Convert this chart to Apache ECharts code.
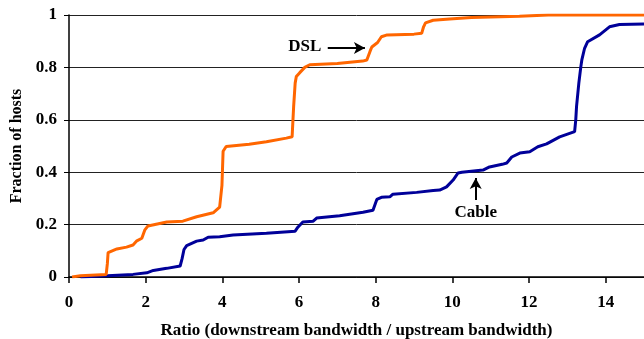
<!DOCTYPE html>
<html>
<head>
<meta charset="utf-8">
<script src="https://cdn.jsdelivr.net/npm/echarts@6/dist/echarts.min.js"></script>
<style>
html,body{margin:0;padding:0;background:#fff;}
#chart{width:644px;height:339px;}
</style>
</head>
<body>
<div id="chart"></div>
<script>
// DSL CDF (ratio, fraction)
var dslX = [0.08,0.3,0.7,0.97,1.0,1.02,1.25,1.5,1.67,1.77,1.9,1.98,2.06,2.55,2.97,3.33,3.76,3.93,3.99,4.02,4.1,4.7,5.15,5.67,5.82,5.86,5.9,5.93,6.02,6.15,6.28,7.0,7.66,7.77,7.85,7.9,8.05,8.15,8.3,9.0,9.2,9.25,9.3,9.5,9.93,10.5,11.75,12.5,15];
var dslY = [0,0.005,0.008,0.01,0.05,0.093,0.107,0.114,0.122,0.138,0.148,0.18,0.195,0.21,0.213,0.23,0.245,0.267,0.35,0.48,0.498,0.507,0.516,0.53,0.535,0.65,0.74,0.765,0.78,0.8,0.81,0.815,0.824,0.828,0.86,0.878,0.895,0.917,0.924,0.927,0.93,0.955,0.97,0.98,0.985,0.99,0.995,1.0,1.0];
// Cable CDF
var cableX = [0.3,1.0,1.67,2.03,2.2,2.55,2.9,2.95,3.0,3.07,3.33,3.5,3.63,3.93,4.28,5.15,5.9,5.97,6.1,6.37,6.46,7.06,7.67,7.93,8.03,8.15,8.37,8.45,9.07,9.5,9.67,9.85,10.02,10.15,10.25,10.8,10.97,11.3,11.42,11.55,11.76,12.02,12.23,12.46,12.8,13.19,13.22,13.24,13.3,13.35,13.38,13.45,13.53,13.84,14.1,14.36,15];
var cableY = [0,0.005,0.01,0.016,0.025,0.033,0.042,0.07,0.105,0.12,0.137,0.141,0.152,0.154,0.16,0.167,0.175,0.19,0.21,0.213,0.225,0.234,0.247,0.255,0.296,0.304,0.306,0.316,0.323,0.33,0.332,0.344,0.37,0.397,0.40,0.408,0.42,0.43,0.435,0.458,0.473,0.478,0.497,0.508,0.535,0.555,0.6,0.65,0.74,0.8,0.83,0.873,0.898,0.924,0.955,0.964,0.966];
var xTicks = [0,2,4,6,8,10,12,14];
var yTicks = [0,0.2,0.4,0.6,0.8,1];

function zip(a,b){return a.map(function(v,i){return [v,b[i]];});}

var font = '"Liberation Serif","Times New Roman",serif';
var chart = echarts.init(document.getElementById('chart'), null, {renderer:'canvas'});
chart.setOption({
  animation:false,
  backgroundColor:'#fff',
  grid:{left:69,top:15,right:0,bottom:62,containLabel:false,outerBoundsMode:'none'},
  xAxis:{
    type:'value',min:0,max:15,interval:2,
    name:'Ratio (downstream bandwidth / upstream bandwidth)',
    nameLocation:'middle',nameGap:45,
    nameTextStyle:{fontFamily:font,fontWeight:'bold',fontSize:17,color:'#000'},
    axisLine:{show:true,lineStyle:{color:'#000',width:1.5}},
    axisTick:{show:true,length:6,inside:false,lineStyle:{color:'#000',width:1.5}},
    axisLabel:{show:true,margin:17,showMaxLabel:false,fontFamily:font,fontWeight:'bold',fontSize:17,color:'#000'},
    splitLine:{show:false}
  },
  yAxis:{
    type:'value',min:0,max:1,interval:0.2,
    name:'Fraction of hosts',
    nameLocation:'middle',nameGap:40,nameRotate:90,
    nameTextStyle:{fontFamily:font,fontWeight:'bold',fontSize:16,color:'#000'},
    axisLine:{show:true,lineStyle:{color:'#000',width:1.5}},
    axisTick:{show:true,length:5,inside:false,lineStyle:{color:'#000',width:1}},
    axisLabel:{show:true,margin:12,fontFamily:font,fontWeight:'bold',fontSize:17,color:'#000'},
    splitLine:{show:true,lineStyle:{color:'#222',width:1}}
  },
  series:[
    {
      name:'DSL',type:'line',data:zip(dslX,dslY),showSymbol:false,smooth:false,
      lineStyle:{color:'#FF6600',width:3},itemStyle:{color:'#FF6600'},z:3,
      markLine:{
        silent:true,symbol:['none','arrow'],symbolSize:[9,11],
        lineStyle:{color:'#000',width:2,type:'solid'},label:{show:false},
        data:[[{coord:[6.75,0.874]},{coord:[7.72,0.874]}]]
      },
      markPoint:{
        silent:true,symbol:'rect',symbolSize:1,itemStyle:{color:'rgba(0,0,0,0)'},
        label:{show:true,position:'inside',formatter:'DSL',fontFamily:font,fontWeight:'bold',fontSize:17,color:'#000'},
        data:[{coord:[6.15,0.878]}]
      }
    },
    {
      name:'Cable',type:'line',data:zip(cableX,cableY),showSymbol:false,smooth:false,
      lineStyle:{color:'#000099',width:3},itemStyle:{color:'#000099'},z:2,
      markLine:{
        silent:true,symbol:['none','arrow'],symbolSize:[9,11],
        lineStyle:{color:'#000',width:2,type:'solid'},label:{show:false},
        data:[[{coord:[10.61,0.294]},{coord:[10.61,0.378]}]]
      },
      markPoint:{
        silent:true,symbol:'rect',symbolSize:1,itemStyle:{color:'rgba(0,0,0,0)'},
        label:{show:true,position:'inside',formatter:'Cable',fontFamily:font,fontWeight:'bold',fontSize:17,color:'#000'},
        data:[{coord:[10.61,0.244]}]
      }
    }
  ]
});
</script>
</body>
</html>
